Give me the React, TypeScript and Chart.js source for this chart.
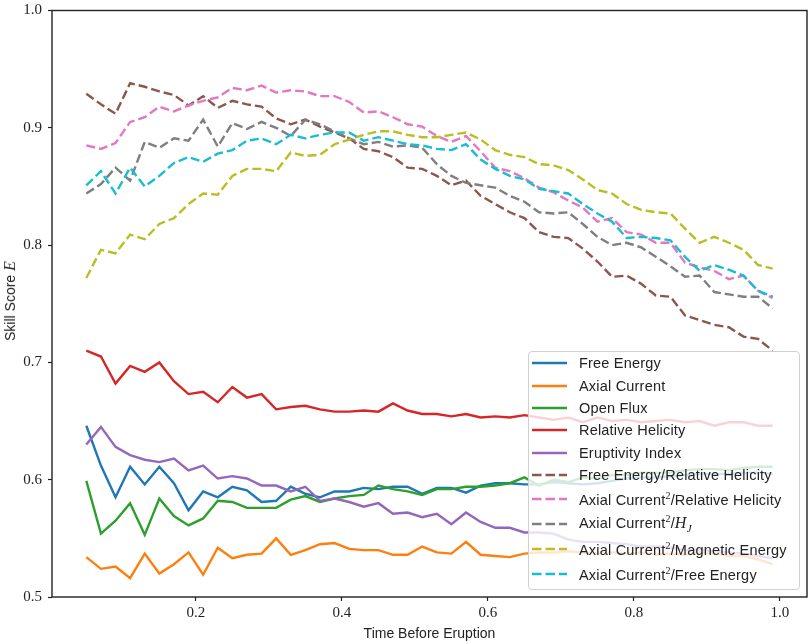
import { useEffect, useRef } from 'react'
import Chart from 'chart.js/auto'

const times = [
  0.05, 0.07, 0.09, 0.11, 0.13, 0.15, 0.17, 0.19, 0.21, 0.23, 0.25, 0.27,
  0.29, 0.31, 0.33, 0.35, 0.37, 0.39, 0.41, 0.43, 0.45, 0.47, 0.49, 0.51,
  0.53, 0.55, 0.57, 0.59, 0.61, 0.63, 0.65, 0.67, 0.69, 0.71, 0.73, 0.75,
  0.77, 0.79, 0.81, 0.83, 0.85, 0.87, 0.89, 0.91, 0.93, 0.95, 0.97, 0.99,
]

const freeEnergy = [
  0.646, 0.612, 0.585, 0.611, 0.596, 0.611, 0.597, 0.574, 0.590, 0.585, 0.594, 0.591,
  0.581, 0.582, 0.594, 0.588, 0.585, 0.590, 0.590, 0.593, 0.592, 0.594, 0.594, 0.588,
  0.593, 0.593, 0.589, 0.595, 0.597, 0.597, 0.596, 0.596, 0.598, 0.597, 0.596, 0.597,
  0.599, 0.601, 0.602, 0.602, 0.603, 0.604, 0.605, 0.605, 0.605, 0.606, 0.606, 0.605,
]
const axialCurrent = [
  0.534, 0.524, 0.526, 0.516, 0.537, 0.520, 0.528, 0.538, 0.519, 0.542, 0.533, 0.536,
  0.537, 0.550, 0.536, 0.540, 0.545, 0.546, 0.541, 0.540, 0.540, 0.536, 0.536, 0.543,
  0.538, 0.537, 0.547, 0.536, 0.535, 0.534, 0.537, 0.538, 0.538, 0.539, 0.538, 0.537,
  0.538, 0.537, 0.538, 0.536, 0.537, 0.536, 0.538, 0.537, 0.535, 0.535, 0.532, 0.528,
]
const openFlux = [
  0.599, 0.554, 0.565, 0.580, 0.553, 0.584, 0.569, 0.561, 0.567, 0.582, 0.581, 0.576,
  0.576, 0.576, 0.583, 0.586, 0.581, 0.584, 0.586, 0.587, 0.595, 0.592, 0.590, 0.587,
  0.592, 0.592, 0.594, 0.594, 0.595, 0.597, 0.602, 0.595, 0.600, 0.598, 0.602, 0.601,
  0.604, 0.604, 0.606, 0.606, 0.606, 0.608, 0.609, 0.609, 0.608, 0.610, 0.611, 0.611,
]
const relativeHelicity = [
  0.710, 0.705, 0.682, 0.697, 0.692, 0.700, 0.684, 0.673, 0.675, 0.666, 0.679, 0.670,
  0.673, 0.660, 0.662, 0.663, 0.660, 0.658, 0.658, 0.659, 0.658, 0.665, 0.659, 0.656,
  0.656, 0.654, 0.656, 0.653, 0.654, 0.653, 0.655, 0.653, 0.651, 0.653, 0.649, 0.653,
  0.650, 0.651, 0.649, 0.650, 0.651, 0.649, 0.650, 0.646, 0.649, 0.649, 0.646, 0.646,
]
const eruptivityIndex = [
  0.630, 0.645, 0.628, 0.621, 0.617, 0.615, 0.618, 0.608, 0.612, 0.601, 0.603, 0.601,
  0.595, 0.595, 0.590, 0.594, 0.582, 0.584, 0.581, 0.577, 0.580, 0.571, 0.572, 0.568,
  0.571, 0.562, 0.572, 0.564, 0.559, 0.559, 0.555, 0.555, 0.554, 0.549, 0.547, 0.547,
  0.546, 0.545, 0.543, 0.543, 0.542, 0.540, 0.540, 0.539, 0.538, 0.537, 0.535, 0.533,
]
const feOverRh = [
  0.929, 0.920, 0.912, 0.938, 0.935, 0.931, 0.928, 0.919, 0.927, 0.917, 0.923, 0.920,
  0.918, 0.908, 0.903, 0.907, 0.901, 0.896, 0.891, 0.882, 0.880, 0.875, 0.866, 0.865,
  0.859, 0.851, 0.855, 0.842, 0.835, 0.828, 0.823, 0.811, 0.807, 0.806, 0.797, 0.786,
  0.773, 0.774, 0.767, 0.757, 0.756, 0.740, 0.736, 0.732, 0.730, 0.722, 0.720, 0.710,
]
const ac2OverRh = [
  0.885, 0.882, 0.887, 0.905, 0.909, 0.918, 0.914, 0.919, 0.923, 0.926, 0.934, 0.932,
  0.936, 0.930, 0.932, 0.931, 0.927, 0.927, 0.922, 0.913, 0.914, 0.909, 0.903, 0.901,
  0.893, 0.888, 0.893, 0.880, 0.866, 0.863, 0.857, 0.849, 0.845, 0.838, 0.832, 0.820,
  0.823, 0.811, 0.809, 0.802, 0.802, 0.785, 0.781, 0.778, 0.771, 0.774, 0.761, 0.755,
]
const ac2OverHj = [
  0.844, 0.852, 0.866, 0.855, 0.888, 0.883, 0.891, 0.889, 0.907, 0.884, 0.904, 0.899,
  0.905, 0.900, 0.893, 0.907, 0.903, 0.897, 0.891, 0.886, 0.888, 0.884, 0.885, 0.883,
  0.869, 0.859, 0.853, 0.851, 0.849, 0.842, 0.837, 0.828, 0.827, 0.828, 0.818, 0.807,
  0.800, 0.802, 0.798, 0.790, 0.782, 0.773, 0.774, 0.760, 0.758, 0.756, 0.756, 0.746,
]
const ac2OverMe = [
  0.772, 0.796, 0.793, 0.809, 0.805, 0.818, 0.823, 0.835, 0.844, 0.843, 0.859, 0.865,
  0.865, 0.863, 0.879, 0.876, 0.877, 0.886, 0.890, 0.894, 0.897, 0.897, 0.894, 0.892,
  0.892, 0.894, 0.896, 0.890, 0.881, 0.877, 0.875, 0.869, 0.868, 0.864, 0.856, 0.847,
  0.844, 0.835, 0.830, 0.828, 0.827, 0.814, 0.802, 0.807, 0.802, 0.796, 0.783, 0.780,
]
const ac2OverFe = [
  0.851, 0.863, 0.844, 0.866, 0.850, 0.859, 0.870, 0.875, 0.871, 0.878, 0.881, 0.889,
  0.891, 0.886, 0.894, 0.891, 0.894, 0.896, 0.896, 0.889, 0.892, 0.889, 0.886, 0.885,
  0.882, 0.881, 0.886, 0.873, 0.865, 0.859, 0.856, 0.848, 0.846, 0.844, 0.835, 0.827,
  0.820, 0.806, 0.807, 0.806, 0.804, 0.790, 0.778, 0.783, 0.779, 0.774, 0.761, 0.756,
]

const xTicks = [0.2, 0.4, 0.6, 0.8, 1.0]
const yTicks = [0.5, 0.6, 0.7, 0.8, 0.9, 1.0]

const series = [
  { label: 'Free Energy', values: freeEnergy, color: '#1f77b4', dashed: false },
  { label: 'Axial Current', values: axialCurrent, color: '#ff7f0e', dashed: false },
  { label: 'Open Flux', values: openFlux, color: '#2ca02c', dashed: false },
  { label: 'Relative Helicity', values: relativeHelicity, color: '#d62728', dashed: false },
  { label: 'Eruptivity Index', values: eruptivityIndex, color: '#9467bd', dashed: false },
  { label: 'Free Energy/Relative Helicity', values: feOverRh, color: '#8c564b', dashed: true },
  { label: 'Axial Current²/Relative Helicity', values: ac2OverRh, color: '#e377c2', dashed: true },
  { label: 'Axial Current²/H_J', values: ac2OverHj, color: '#7f7f7f', dashed: true },
  { label: 'Axial Current²/Magnetic Energy', values: ac2OverMe, color: '#bcbd22', dashed: true },
  { label: 'Axial Current²/Free Energy', values: ac2OverFe, color: '#17becf', dashed: true },
]

const ink = '#222'
const sans = '"Liberation Sans", Arial, sans-serif'
const serif = '"Liberation Serif", "Times New Roman", serif'

// draws the four spines like matplotlib
const framePlugin = {
  id: 'frame',
  afterDatasetsDraw(chart: any) {
    const { ctx, chartArea: a } = chart
    ctx.save()
    ctx.strokeStyle = ink
    ctx.lineWidth = 1.4
    ctx.strokeRect(a.left, a.top, a.right - a.left, a.bottom - a.top)
    ctx.restore()
  },
}

function LegendLabel({ text }: { text: string }) {
  if (text.endsWith('/H_J')) {
    return (
      <span>
        Axial Current<sup style={{ fontSize: 10, fontFamily: serif }}>2</sup>/
        <i style={{ fontFamily: serif, fontSize: 16 }}>H</i>
        <sub style={{ fontFamily: serif, fontSize: 11, fontStyle: 'italic' }}>J</sub>
      </span>
    )
  }
  if (text.includes('²')) {
    const [a, b] = text.split('²')
    return (
      <span>
        {a}<sup style={{ fontSize: 10, fontFamily: serif }}>2</sup>{b}
      </span>
    )
  }
  return <span>{text}</span>
}

export default function App() {
  const chartRef = useRef<HTMLCanvasElement>(null)

  useEffect(() => {
    if (!chartRef.current) return
    const existing = Chart.getChart(chartRef.current)
    if (existing) existing.destroy()

    const datasets = series.map((s, i) => ({
      label: s.label,
      data: s.values.map((v, j) => ({ x: times[j], y: v })),
      borderColor: s.color,
      backgroundColor: s.color,
      borderWidth: 2.4,
      borderDash: s.dashed ? [9, 4] : [],
      pointRadius: 0,
      tension: 0,
      fill: false,
      order: series.length - i,
    }))

    const chart = new Chart(chartRef.current, {
      type: 'line',
      data: { datasets },
      plugins: [framePlugin],
      options: {
        animation: false,
        responsive: false,
        maintainAspectRatio: false,
        layout: { autoPadding: false, padding: { top: 5, right: 2, left: 0, bottom: 0 } },
        plugins: { legend: { display: false }, tooltip: { enabled: false } },
        scales: {
          x: {
            type: 'linear',
            min: 0.003,
            max: 1.037,
            afterBuildTicks: (axis: any) => { axis.ticks = xTicks.map(v => ({ value: v })) },
            afterFit: (axis: any) => { axis.height = 47 },
            ticks: {
              callback: (v: any) => Number(v).toFixed(1),
              font: { family: serif, size: 15 },
              color: ink,
              padding: 3,
              maxRotation: 0,
            },
            grid: { drawOnChartArea: false, tickLength: 4, color: ink, tickWidth: 1.2 },
            border: { display: false },
            title: {
              display: true,
              text: 'Time Before Eruption',
              font: { family: sans, size: 14 },
              color: ink,
              padding: { top: 0, bottom: 1 },
            },
          },
          y: {
            type: 'linear',
            min: 0.5,
            max: 1.0,
            afterBuildTicks: (axis: any) => { axis.ticks = yTicks.map(v => ({ value: v })) },
            afterFit: (axis: any) => { axis.width = 52 },
            ticks: {
              callback: (v: any) => Number(v).toFixed(1),
              font: { family: serif, size: 15, lineHeight: 0.6 },
              color: ink,
              padding: 6,
            },
            grid: { drawOnChartArea: false, tickLength: 4, color: ink, tickWidth: 1.2 },
            border: { display: false },
          },
        },
      },
    })

    return () => { chart.destroy() }
  }, [])

  const rowHeights = series.map(s => (s.label.includes('²') ? 25 : 22.4))

  return (
    <div style={{ position: 'relative', width: 809, height: 644 }}>
      <style>{'body{margin:0}'}</style>
      <canvas ref={chartRef} width={809} height={644} style={{ display: 'block' }} />

      {/* y-axis title */}
      <div style={{
        position: 'absolute', left: 10, top: 301, transform: 'translate(-50%, -50%) rotate(-90deg)',
        whiteSpace: 'nowrap', fontFamily: sans, fontSize: 14, color: ink,
      }}>
        Skill Score <i style={{ fontFamily: serif, fontSize: 16 }}>E</i>
      </div>

      {/* legend */}
      <div style={{
        position: 'absolute', left: 528, top: 351, width: 272, height: 239, boxSizing: 'border-box',
        border: '1px solid #d0d0d0', borderRadius: 4, background: 'rgba(255,255,255,0.8)',
        fontFamily: sans, fontSize: 14.5, letterSpacing: 0.2, color: ink,
      }}>
        {series.map((s, i) => (
          <div key={i} style={{ height: rowHeights[i], display: 'flex', alignItems: 'center' }}>
            <svg width={35} height={6} style={{ marginLeft: 3, marginRight: 12, flex: 'none' }}>
              <line x1={0} y1={3} x2={35} y2={3} stroke={s.color} strokeWidth={2.4}
                strokeDasharray={s.dashed ? '9.5 4' : undefined} />
            </svg>
            <LegendLabel text={s.label} />
          </div>
        ))}
      </div>
    </div>
  )
}
